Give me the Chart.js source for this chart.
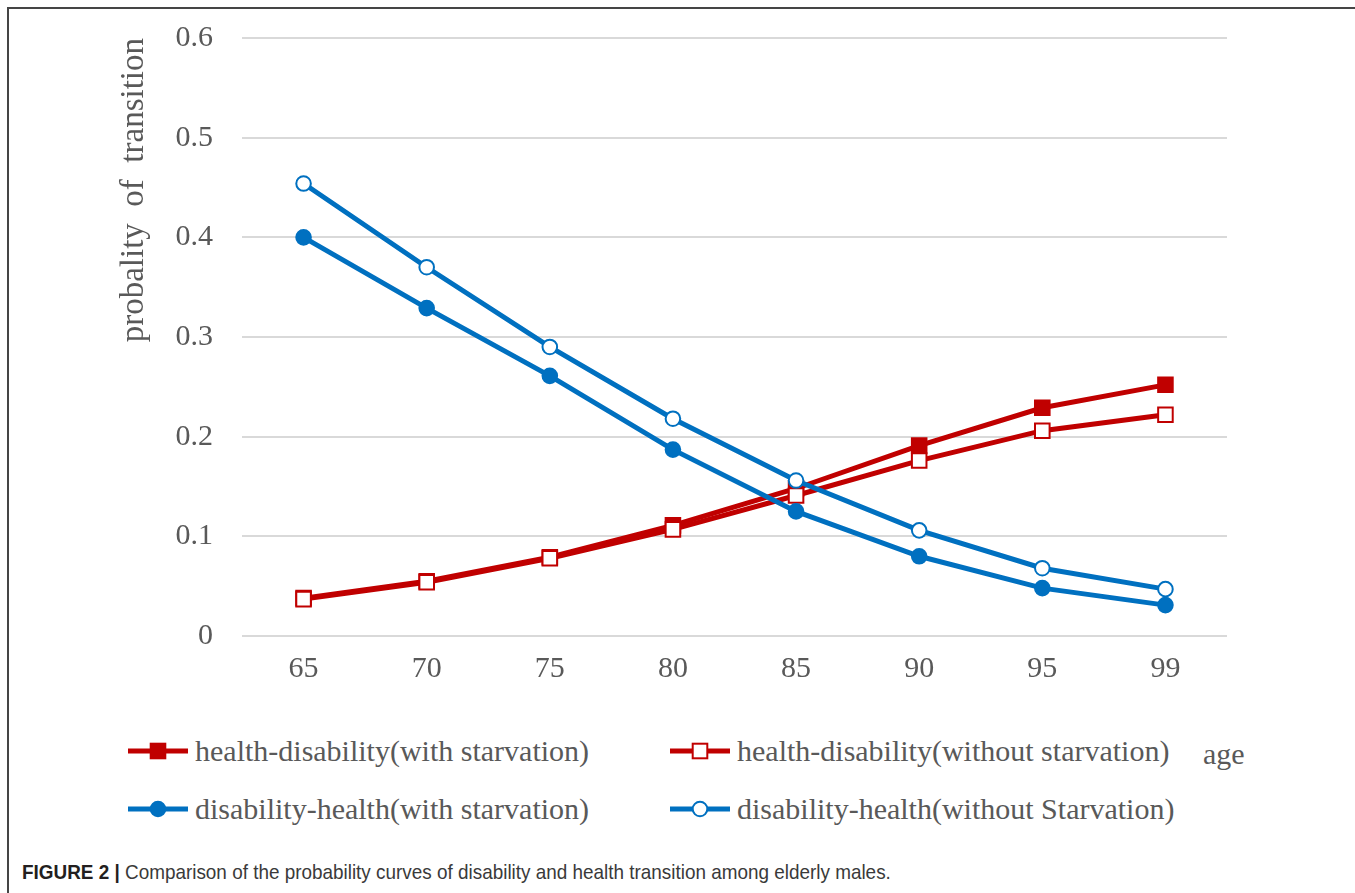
<!DOCTYPE html>
<html>
<head>
<meta charset="utf-8">
<script src="https://cdn.jsdelivr.net/npm/chart.js@4.4.1/dist/chart.umd.min.js"></script>
<style>
  html, body { margin: 0; padding: 0; background: #fff; width: 1355px; height: 893px; overflow: hidden; }
  #frame { position: absolute; left: 7px; top: 7px; width: 1400px; height: 1000px;
           border-top: 2px solid #454545; border-left: 2px solid #454545; }
  #plot { position: absolute; left: 0; top: 0; width: 1355px; height: 700px; }
  .lg-item { position: absolute; display: flex; align-items: center; height: 40px;
             font-family: "Liberation Serif", "Times New Roman", serif; font-size: 30px;
             color: #595959; white-space: nowrap; }
  .lg-item svg { display: block; margin-right: 7px; }
  #xname { position: absolute; left: 1203px; top: 734px; font-family: "Liberation Serif", serif;
           font-size: 30px; color: #595959; line-height: 40px; }
  #caption { position: absolute; left: 22px; top: 861px; font-family: "Liberation Sans", Arial, sans-serif;
             font-size: 21px; line-height: 21px; color: #3a3a3a; white-space: nowrap;
             transform-origin: left top; transform: scaleX(0.9); }
  #caption b { color: #231f20; }
</style>
</head>
<body>
<div id="frame"></div>
<div id="plot"><canvas id="c" width="1355" height="700"></canvas></div>
<div id="legend"></div>
<div id="xname">age</div>
<div id="caption"><b>FIGURE 2</b> <b>|</b> Comparison of the probability curves of disability and health transition among elderly males.</div>

<script>
// ages on the horizontal axis
const ages = ['65', '70', '75', '80', '85', '90', '95', '99'];

// transition probabilities per age
const hdWithStarvation    = [0.038, 0.055, 0.079, 0.111, 0.148, 0.191, 0.229, 0.252];
const hdWithoutStarvation = [0.037, 0.054, 0.078, 0.107, 0.141, 0.176, 0.206, 0.222];
const dhWithStarvation    = [0.400, 0.329, 0.261, 0.187, 0.125, 0.080, 0.048, 0.031];
const dhWithoutStarvation = [0.454, 0.370, 0.290, 0.218, 0.156, 0.106, 0.068, 0.047];

// vertical axis tick labels
const yTickLabels = ['0', '0.1', '0.2', '0.3', '0.4', '0.5', '0.6'];

const seriesNames = [
  'health-disability(with starvation)',
  'health-disability(without starvation)',
  'disability-health(with starvation)',
  'disability-health(without Starvation)'
];

const RED = '#c00000';
const BLUE = '#0070c0';
const SERIF = '"Liberation Serif", "Times New Roman", serif';
const GREY_TEXT = '#595959';

function series(label, data, color, style, filled, order) {
  return {
    label, data, order,
    borderColor: color,
    borderWidth: 5,
    backgroundColor: color,
    pointStyle: style,
    pointRadius: style === 'rect' ? 10.3 : 7.3,
    pointHoverRadius: style === 'rect' ? 10.3 : 7.3,
    pointBackgroundColor: filled ? color : '#ffffff',
    pointBorderColor: color,
    pointBorderWidth: 2,
    tension: 0,
    fill: false
  };
}

const datasets = [
  series(seriesNames[0], hdWithStarvation, RED, 'rect', true, 4),
  series(seriesNames[1], hdWithoutStarvation, RED, 'rect', false, 3),
  series(seriesNames[2], dhWithStarvation, BLUE, 'circle', true, 2),
  series(seriesNames[3], dhWithoutStarvation, BLUE, 'circle', false, 1)
];

const chart = new Chart(document.getElementById('c'), {
  type: 'line',
  data: { labels: ages, datasets },
  options: {
    responsive: false,
    animation: false,
    events: [],
    layout: { padding: { left: 113, right: 128, top: 38, bottom: 0 } },
    plugins: { legend: { display: false }, tooltip: { enabled: false } },
    scales: {
      x: {
        type: 'category',
        offset: true,
        grid: { display: false, drawTicks: false },
        border: { display: false },
        ticks: { color: GREY_TEXT, font: { family: SERIF, size: 30 }, padding: 15, maxRotation: 0 },
        afterFit: s => { s.height = 64; }
      },
      y: {
        min: 0, max: 0.6,
        grid: { color: '#d9d9d9', lineWidth: 2, drawTicks: false },
        border: { display: false },
        ticks: {
          stepSize: 0.1,
          color: GREY_TEXT,
          font: { family: SERIF, size: 30 },
          padding: 29,
          callback: (v, i) => yTickLabels[i]
        },
        title: {
          display: true,
          text: 'probality  of  transition',
          align: 'end',
          color: GREY_TEXT,
          font: { family: SERIF, size: 33 },
          padding: { top: 2, bottom: 2 }
        },
        afterFit: s => { s.width = 129; s.paddingTop = 0; s.paddingBottom = 0; }
      }
    }
  }
});

// Legend: line-with-marker symbol followed by the series name, two columns
const legendPos = [
  { left: 128, top: 731 }, { left: 670, top: 731 },
  { left: 128, top: 789 }, { left: 670, top: 789 }
];
const legendRoot = document.getElementById('legend');
chart.data.datasets.forEach((ds, i) => {
  const item = document.createElement('div');
  item.className = 'lg-item';
  item.style.left = legendPos[i].left + 'px';
  item.style.top = legendPos[i].top + 'px';
  const w = 60, h = 20, cx = w / 2, cy = h / 2;
  let marker;
  if (ds.pointStyle === 'rect') {
    const half = 7.3;
    marker = `<rect x="${cx - half}" y="${cy - half}" width="${half * 2}" height="${half * 2}" fill="${ds.pointBackgroundColor}" stroke="${ds.pointBorderColor}" stroke-width="2"/>`;
  } else {
    marker = `<circle cx="${cx}" cy="${cy}" r="7.3" fill="${ds.pointBackgroundColor}" stroke="${ds.pointBorderColor}" stroke-width="2"/>`;
  }
  item.innerHTML =
    `<svg width="${w}" height="${h}"><line x1="0" y1="${cy}" x2="${w}" y2="${cy}" stroke="${ds.borderColor}" stroke-width="5"/>${marker}</svg>` +
    `<span>${ds.label}</span>`;
  legendRoot.appendChild(item);
});
</script>
</body>
</html>
